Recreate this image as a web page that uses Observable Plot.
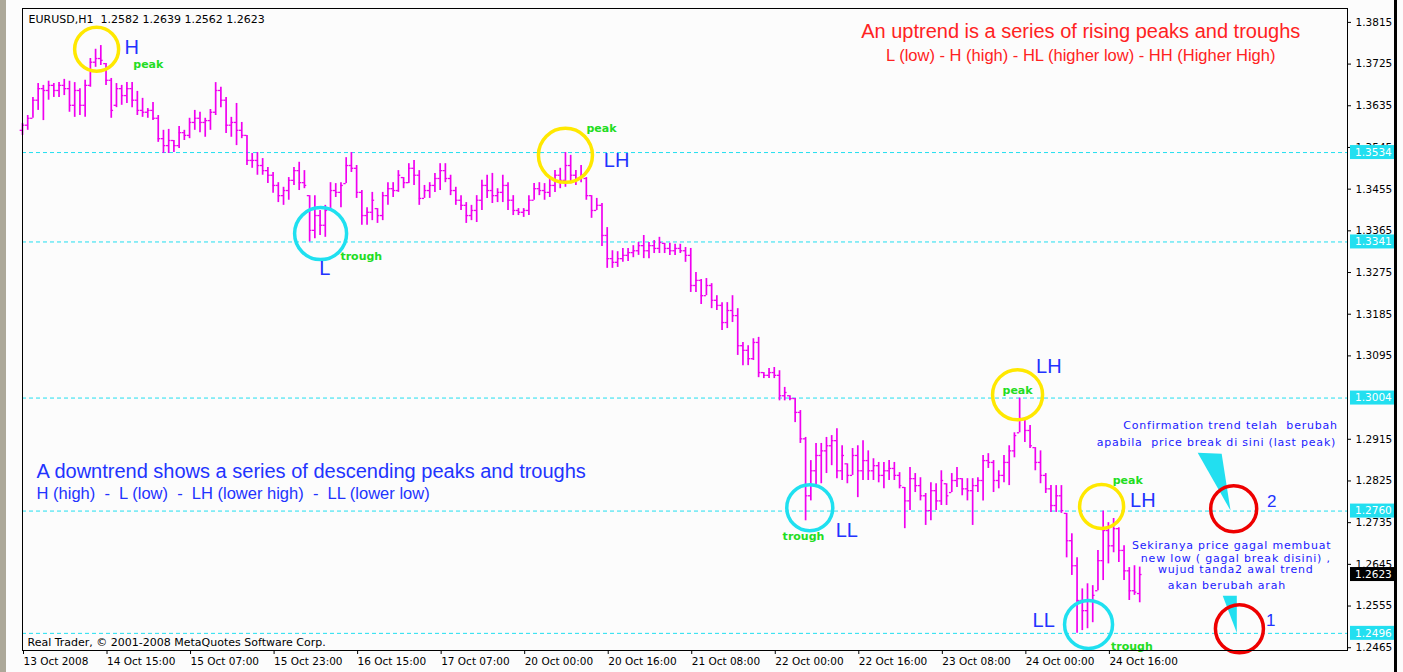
<!DOCTYPE html>
<html><head><meta charset="utf-8">
<script src="https://cdn.jsdelivr.net/npm/d3@7"></script>
<script src="https://cdn.jsdelivr.net/npm/@observablehq/plot@0.6"></script>
<style>
html,body{margin:0;padding:0;background:#fcfcfc;}
#wrap{position:relative;width:1403px;height:672px;overflow:hidden;}
#wrap svg text{white-space:pre;}
#wrap svg g[fill="#1a1aff"] text{letter-spacing:0.8px;}
.chrome{position:absolute;top:0;height:672px;}
</style></head><body>
<div id="wrap"></div>
<script>
// ---- data: EURUSD H1 bars (index 0 = 13 Oct 2008) ----
const high = [1.3597,1.3614,1.3653,1.3683,1.3679,1.3688,1.3683,1.3685,1.3692,1.3688,1.3685,1.3672,1.3690,1.3737,1.3757,1.3765,1.3726,1.3694,1.3683,1.3679,1.3685,1.3685,1.3666,1.3651,1.3629,1.3642,1.3614,1.3582,1.3584,1.3560,1.3590,1.3582,1.3608,1.3625,1.3621,1.3608,1.3627,1.3685,1.3675,1.3653,1.3610,1.3640,1.3599,1.3571,1.3532,1.3534,1.3521,1.3502,1.3491,1.3469,1.3459,1.3480,1.3502,1.3513,1.3495,1.3441,1.3441,1.3409,1.3420,1.3469,1.3467,1.3469,1.3523,1.3534,1.3506,1.3452,1.3415,1.3448,1.3413,1.3448,1.3469,1.3469,1.3495,1.3480,1.3510,1.3517,1.3495,1.3463,1.3469,1.3489,1.3510,1.3510,1.3485,1.3459,1.3441,1.3426,1.3420,1.3441,1.3474,1.3485,1.3489,1.3456,1.3485,1.3469,1.3441,1.3413,1.3413,1.3441,1.3467,1.3469,1.3467,1.3478,1.3495,1.3500,1.3534,1.3528,1.3495,1.3506,1.3480,1.3441,1.3435,1.3424,1.3372,1.3322,1.3320,1.3327,1.3327,1.3333,1.3340,1.3355,1.3340,1.3344,1.3351,1.3338,1.3338,1.3336,1.3336,1.3329,1.3327,1.3275,1.3260,1.3262,1.3251,1.3225,1.3210,1.3210,1.3225,1.3197,1.3124,1.3117,1.3132,1.3135,1.3059,1.3068,1.3070,1.3063,1.3027,1.3009,1.3003,1.2977,1.2919,1.2869,1.2906,1.2906,1.2919,1.2923,1.2938,1.2901,1.2862,1.2895,1.2901,1.2912,1.2890,1.2873,1.2865,1.2865,1.2869,1.2865,1.2843,1.2811,1.2854,1.2841,1.2832,1.2798,1.2821,1.2819,1.2847,1.2819,1.2841,1.2854,1.2830,1.2830,1.2830,1.2832,1.2880,1.2884,1.2869,1.2847,1.2880,1.2901,1.2929,1.3004,1.2960,1.2945,1.2897,1.2890,1.2841,1.2815,1.2815,1.2815,1.2755,1.2711,1.2659,1.2592,1.2603,1.2599,1.2675,1.2760,1.2735,1.2744,1.2724,1.2685,1.2638,1.2642,1.2639];
const low = [1.3571,1.3582,1.3608,1.3625,1.3603,1.3647,1.3653,1.3653,1.3657,1.3621,1.3610,1.3614,1.3610,1.3675,1.3718,1.3722,1.3679,1.3608,1.3631,1.3636,1.3640,1.3631,1.3614,1.3610,1.3608,1.3603,1.3556,1.3532,1.3532,1.3534,1.3543,1.3560,1.3564,1.3582,1.3577,1.3567,1.3582,1.3614,1.3631,1.3575,1.3567,1.3549,1.3564,1.3506,1.3500,1.3485,1.3485,1.3467,1.3446,1.3426,1.3420,1.3431,1.3463,1.3452,1.3456,1.3341,1.3348,1.3355,1.3351,1.3413,1.3437,1.3415,1.3467,1.3491,1.3435,1.3377,1.3377,1.3387,1.3381,1.3387,1.3420,1.3437,1.3448,1.3456,1.3467,1.3463,1.3420,1.3435,1.3435,1.3448,1.3452,1.3469,1.3441,1.3420,1.3409,1.3381,1.3387,1.3383,1.3409,1.3435,1.3424,1.3426,1.3426,1.3409,1.3398,1.3398,1.3394,1.3398,1.3431,1.3441,1.3431,1.3437,1.3448,1.3456,1.3459,1.3467,1.3463,1.3469,1.3431,1.3392,1.3409,1.3331,1.3284,1.3284,1.3286,1.3297,1.3299,1.3307,1.3312,1.3305,1.3305,1.3316,1.3316,1.3316,1.3312,1.3312,1.3316,1.3297,1.3232,1.3232,1.3206,1.3225,1.3197,1.3193,1.3150,1.3154,1.3167,1.3096,1.3074,1.3074,1.3085,1.3048,1.3046,1.3046,1.3046,1.2998,1.2998,1.2998,1.2951,1.2906,1.2739,1.2782,1.2815,1.2819,1.2841,1.2858,1.2830,1.2826,1.2819,1.2837,1.2789,1.2826,1.2826,1.2826,1.2821,1.2808,1.2826,1.2826,1.2808,1.2722,1.2761,1.2800,1.2782,1.2729,1.2739,1.2761,1.2772,1.2772,1.2800,1.2811,1.2793,1.2782,1.2729,1.2800,1.2782,1.2852,1.2800,1.2808,1.2821,1.2815,1.2875,1.2929,1.2908,1.2895,1.2847,1.2819,1.2798,1.2757,1.2757,1.2755,1.2659,1.2621,1.2496,1.2502,1.2506,1.2519,1.2588,1.2610,1.2646,1.2670,1.2649,1.2610,1.2567,1.2578,1.2562];
const open = [1.3582,1.3593,1.3608,1.3647,1.3672,1.3668,1.3679,1.3668,1.3679,1.3672,1.3636,1.3668,1.3636,1.3679,1.3729,1.3737,1.3726,1.3690,1.3636,1.3672,1.3657,1.3672,1.3647,1.3625,1.3621,1.3625,1.3608,1.3564,1.3549,1.3560,1.3549,1.3577,1.3571,1.3599,1.3608,1.3599,1.3603,1.3621,1.3668,1.3647,1.3593,1.3599,1.3582,1.3571,1.3517,1.3517,1.3506,1.3495,1.3485,1.3463,1.3441,1.3452,1.3474,1.3495,1.3469,1.3441,1.3366,1.3398,1.3377,1.3413,1.3452,1.3448,1.3467,1.3506,1.3500,1.3448,1.3398,1.3405,1.3413,1.3398,1.3441,1.3456,1.3452,1.3480,1.3469,1.3500,1.3485,1.3435,1.3452,1.3463,1.3478,1.3495,1.3478,1.3452,1.3431,1.3420,1.3398,1.3409,1.3431,1.3463,1.3452,1.3441,1.3448,1.3463,1.3431,1.3409,1.3405,1.3409,1.3431,1.3456,1.3452,1.3448,1.3463,1.3485,1.3474,1.3506,1.3485,1.3478,1.3478,1.3441,1.3409,1.3420,1.3355,1.3305,1.3297,1.3305,1.3312,1.3318,1.3322,1.3333,1.3322,1.3333,1.3327,1.3338,1.3327,1.3322,1.3327,1.3322,1.3312,1.3247,1.3258,1.3225,1.3247,1.3215,1.3204,1.3167,1.3193,1.3182,1.3117,1.3107,1.3089,1.3124,1.3059,1.3053,1.3059,1.3053,1.3009,1.3009,1.3003,1.2973,1.2916,1.2793,1.2847,1.2880,1.2890,1.2901,1.2912,1.2847,1.2862,1.2837,1.2880,1.2847,1.2869,1.2847,1.2858,1.2837,1.2847,1.2852,1.2837,1.2811,1.2782,1.2830,1.2815,1.2793,1.2761,1.2804,1.2782,1.2819,1.2800,1.2826,1.2830,1.2808,1.2804,1.2815,1.2826,1.2869,1.2865,1.2826,1.2837,1.2865,1.2890,1.2929,1.2960,1.2934,1.2897,1.2865,1.2837,1.2808,1.2772,1.2793,1.2755,1.2696,1.2642,1.2567,1.2545,1.2567,1.2588,1.2653,1.2718,1.2685,1.2722,1.2675,1.2631,1.2588,1.2582];
const close = [1.3593,1.3608,1.3647,1.3672,1.3668,1.3679,1.3668,1.3679,1.3672,1.3636,1.3668,1.3636,1.3679,1.3729,1.3737,1.3733,1.3690,1.3625,1.3672,1.3657,1.3672,1.3647,1.3625,1.3621,1.3625,1.3608,1.3564,1.3549,1.3560,1.3549,1.3577,1.3571,1.3599,1.3608,1.3599,1.3603,1.3621,1.3668,1.3647,1.3593,1.3599,1.3582,1.3571,1.3517,1.3517,1.3506,1.3495,1.3485,1.3463,1.3441,1.3452,1.3474,1.3495,1.3469,1.3463,1.3366,1.3398,1.3377,1.3409,1.3452,1.3448,1.3463,1.3506,1.3500,1.3448,1.3398,1.3405,1.3431,1.3398,1.3441,1.3456,1.3452,1.3485,1.3469,1.3500,1.3485,1.3435,1.3452,1.3463,1.3478,1.3495,1.3478,1.3452,1.3431,1.3420,1.3398,1.3409,1.3431,1.3463,1.3452,1.3441,1.3448,1.3463,1.3431,1.3409,1.3405,1.3409,1.3431,1.3456,1.3452,1.3448,1.3463,1.3485,1.3474,1.3506,1.3485,1.3478,1.3485,1.3441,1.3409,1.3420,1.3355,1.3305,1.3297,1.3305,1.3312,1.3318,1.3322,1.3333,1.3322,1.3333,1.3327,1.3340,1.3327,1.3322,1.3327,1.3322,1.3312,1.3247,1.3258,1.3225,1.3247,1.3215,1.3204,1.3167,1.3193,1.3182,1.3117,1.3107,1.3089,1.3124,1.3059,1.3053,1.3059,1.3053,1.3009,1.3016,1.3003,1.2973,1.2916,1.2793,1.2847,1.2880,1.2890,1.2901,1.2912,1.2847,1.2880,1.2837,1.2880,1.2847,1.2869,1.2847,1.2858,1.2837,1.2847,1.2852,1.2837,1.2815,1.2782,1.2830,1.2815,1.2793,1.2761,1.2804,1.2782,1.2826,1.2793,1.2826,1.2830,1.2808,1.2804,1.2815,1.2826,1.2869,1.2865,1.2826,1.2837,1.2865,1.2890,1.2923,1.2960,1.2934,1.2901,1.2865,1.2837,1.2808,1.2772,1.2793,1.2761,1.2696,1.2642,1.2567,1.2545,1.2567,1.2578,1.2653,1.2718,1.2685,1.2722,1.2675,1.2631,1.2588,1.2585,1.2623];

const timeTickIndex = [0,16,32,48,64,80,96,112,128,144,160,176,192,208];
const timeTickLabels = ["13 Oct 2008","14 Oct 15:00","15 Oct 07:00","15 Oct 23:00","16 Oct 15:00","17 Oct 07:00","20 Oct 00:00","20 Oct 16:00","21 Oct 08:00","22 Oct 00:00","22 Oct 16:00","23 Oct 08:00","24 Oct 00:00","24 Oct 16:00"];
const priceTicks = [1.3815,1.3725,1.3635,1.3545,1.3455,1.3365,1.3275,1.3185,1.3095,1.2915,1.2825,1.2735,1.2645,1.2555,1.2465];
const levelLines = [1.3534,1.3341,1.3004,1.2760,1.2496];
const lastPrice = 1.2623;

const headerText = "EURUSD,H1  1.2582 1.2639 1.2562 1.2623";
const footerText = "Real Trader, © 2001-2008 MetaQuotes Software Corp.";

// annotations, anchored in (bar index, price)
const peakCircles = [{x:14.2,y:1.3757,r:22},{x:104.0,y:1.3528,r:27},{x:190.6,y:1.3011,r:25},{x:206.7,y:1.2770,r:22}];
const troughCircles = [{x:57.1,y:1.3359,r:26},{x:150.8,y:1.2767,r:23},{x:204.2,y:1.2515,r:24}];
const targetCircles = [{x:232.0,y:1.2765,r:23},{x:233.1,y:1.2506,r:24}];
const swingLabels = [{t:"H",x:20.9,y:1.3761},{t:"L",x:57.9,y:1.3284},{t:"LH",x:113.8,y:1.3517},{t:"LL",x:157.9,y:1.2718},{t:"LH",x:196.6,y:1.3072},{t:"LH",x:214.6,y:1.2782},{t:"LL",x:195.6,y:1.2523}];
const pointLabels = [{t:"peak",x:24.1,y:1.3724},{t:"trough",x:64.9,y:1.3310},{t:"peak",x:110.9,y:1.3586},{t:"trough",x:149.6,y:1.2705},{t:"peak",x:190.6,y:1.3020},{t:"peak",x:211.7,y:1.2826},{t:"trough",x:212.5,y:1.2467}];
const targetNumbers = [{t:"2",x:239.3,y:1.2780},{t:"1",x:239.1,y:1.2523}];
const noteLines = [
  {t:"Confirmation trend telah  berubah",x:231.4,y:1.2944},
  {t:"apabila  price break di sini (last peak)",x:228.7,y:1.2908},
  {t:"Sekiranya price gagal membuat",x:231.6,y:1.2685},
  {t:"new low ( gagal break disini) ,",x:232.4,y:1.2657},
  {t:"wujud tanda2 awal trend",x:232.4,y:1.2634},
  {t:"akan berubah arah",x:230.7,y:1.2599}
];
const upTitle = [{t:"An uptrend is a series of rising peaks and troughs",x:202.7,y:1.3796,s:20},{t:"L (low) - H (high) - HL (higher low) - HH (Higher High)",x:202.7,y:1.3744,s:16.5}];
const downTitle = [{t:"A downtrend shows a series of descending peaks and troughs",x:2.7,y:1.2845,s:20},{t:"H (high)  -  L (low)  -  LH (lower high)  -  LL (lower low)",x:2.7,y:1.2798,s:16.5}];
const pointers = [
  {w:1,x:225.1,y:1.2886},{w:1,x:229.7,y:1.2884},{w:1,x:231.4,y:1.2761},
  {w:2,x:229.9,y:1.2577},{w:2,x:232.6,y:1.2577},{w:2,x:232.6,y:1.2497}
];

const bars = high.map((h,i)=>({i, high:h, low:low[i], open:open[i], close:close[i]}));
const tickLabel = new Map(timeTickIndex.map((v,k)=>[v,timeTickLabels[k]]));

const W = 1403, H = 672, mL = 22, mR = 56, mT = 8, mB = 22;
const BAR = "#f000f0", CYAN = "#22dff0", BLUE = "#2233ff";

const chart = Plot.plot({
  width: W, height: H,
  marginLeft: mL, marginRight: mR, marginTop: mT, marginBottom: mB,
  x: {domain: [0, 253.8], axis: null},
  y: {domain: [1.2459, 1.3845], axis: null},
  r: {type: "identity"},
  style: {background: "#fcfcfc", fontFamily: "DejaVu Sans", fontSize: "10.5px", color: "black", overflow: "visible"},
  marks: [
    Plot.ruleY(levelLines, {stroke: CYAN, strokeWidth: 1, strokeDasharray: "4,3"}),
    Plot.ruleX(bars, {x: "i", y1: "low", y2: "high", stroke: BAR, strokeWidth: 1.7}),
    Plot.ruleY(bars, {y: "open", x1: d => d.i - 0.45, x2: "i", stroke: BAR, strokeWidth: 1.3}),
    Plot.ruleY(bars, {y: "close", x1: "i", x2: d => d.i + 0.45, stroke: BAR, strokeWidth: 1.3}),
    Plot.line(pointers, {x: "x", y: "y", z: "w", fill: CYAN, stroke: "none"}),
    Plot.dot(peakCircles, {x: "x", y: "y", r: "r", stroke: "#ffe800", strokeWidth: 3.5, fill: "none"}),
    Plot.dot(troughCircles, {x: "x", y: "y", r: "r", stroke: "#1fe0f0", strokeWidth: 3.5, fill: "none"}),
    Plot.dot(targetCircles, {x: "x", y: "y", r: "r", stroke: "#ee0000", strokeWidth: 3.5, fill: "none"}),
    Plot.text(swingLabels, {x: "x", y: "y", text: "t", fill: BLUE, fontSize: 20, fontFamily: "Liberation Sans"}),
    Plot.text(pointLabels, {x: "x", y: "y", text: "t", fill: "#22dd22", fontSize: 11, fontWeight: "bold", fontFamily: "DejaVu Sans"}),
    Plot.text(targetNumbers, {x: "x", y: "y", text: "t", fill: BLUE, fontSize: 17, fontFamily: "Liberation Sans"}),
    Plot.text(noteLines, {x: "x", y: "y", text: "t", fill: "#1a1aff", fontSize: 11, fontFamily: "DejaVu Sans"}),
    Plot.text(upTitle, {x: "x", y: "y", text: "t", fill: "#ff2222", fontSize: "s", fontFamily: "Liberation Sans"}),
    Plot.text(downTitle, {x: "x", y: "y", text: "t", fill: BLUE, fontSize: "s", fontFamily: "Liberation Sans", textAnchor: "start"}),
    Plot.text([headerText], {text: d => d, frameAnchor: "top-left", dx: 6, dy: 7, fill: "black", fontSize: 11}),
    Plot.text([footerText], {text: d => d, frameAnchor: "bottom-left", dx: 5, dy: -5, fill: "black", fontSize: 11}),
    Plot.frame({stroke: "black"}),
    Plot.axisY(priceTicks, {anchor: "right", tickSize: 3, tickPadding: 5, tickFormat: d => d.toFixed(4), label: null, fontSize: 10.5}),
    Plot.axisX(timeTickIndex, {anchor: "bottom", tickSize: 4, tickPadding: 3, tickFormat: d => tickLabel.get(d), textAnchor: "start", dx: 1, label: null, fontSize: 10.5})
  ]
});

// price tags in the right gutter, placed through the plot's y scale
const ys = chart.scale("y");
const svg = d3.select(chart);
const gx = W - mR + 3;
const tags = levelLines.map(v => ({v, fill: CYAN})).concat([{v: lastPrice, fill: "black"}]);
for (const t of tags) {
  const yy = ys.apply(t.v);
  svg.append("rect").attr("x", gx).attr("y", yy - 7).attr("width", 44).attr("height", 14).attr("fill", t.fill);
  svg.append("text").attr("x", gx + 5).attr("y", yy).attr("dy", "0.35em").attr("text-anchor", "start")
    .attr("fill", "white").attr("font-size", "10.5px").attr("font-family", "DejaVu Sans").text(t.v.toFixed(4));
}

const wrap = document.getElementById("wrap");
wrap.appendChild(chart);
const left = document.createElement("div");
left.className = "chrome"; left.style.left = "0px"; left.style.width = "6px"; left.style.background = "#aca899";
wrap.appendChild(left);
const right = document.createElement("div");
right.className = "chrome"; right.style.left = "1394px"; right.style.width = "3px"; right.style.background = "#000";
wrap.appendChild(right);
</script></body></html>
